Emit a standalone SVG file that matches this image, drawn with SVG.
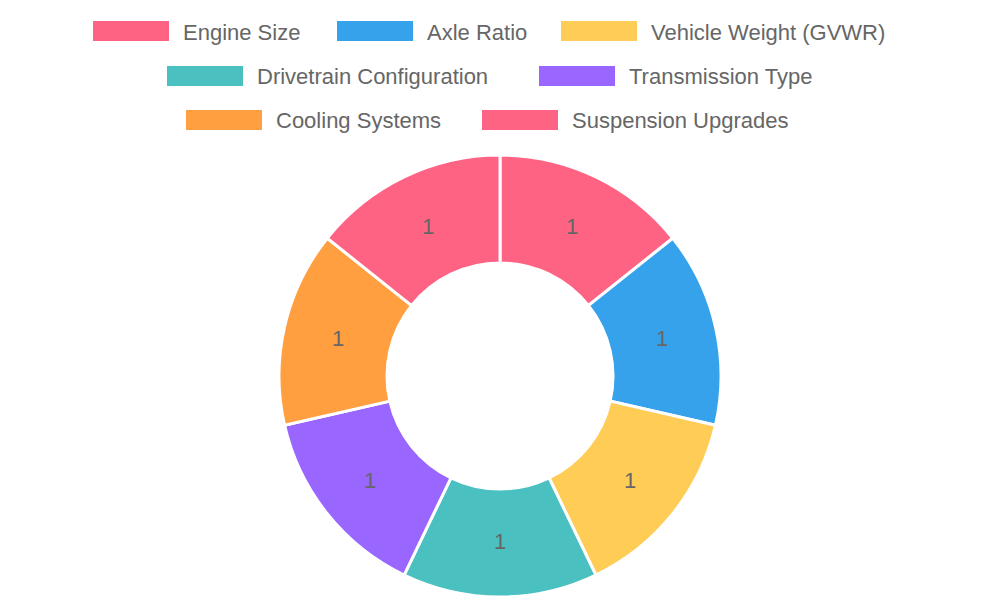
<svg xmlns="http://www.w3.org/2000/svg" width="1000" height="600" viewBox="0 0 1000 600">
<style>
text{font-family:"Liberation Sans",Arial,sans-serif;font-size:22px;fill:#666}
.lab{text-anchor:middle;dominant-baseline:central}
.leg{dominant-baseline:central}
.s{stroke:#fff;stroke-width:3}
</style>
<rect width="1000" height="600" fill="#fff"/>
<g id="legend">
<rect x="93" y="21" width="76" height="20" fill="#ff6384"/><text class="leg" x="183" y="32">Engine Size</text>
<rect x="337" y="21" width="76" height="20" fill="#36a2eb"/><text class="leg" x="427" y="32">Axle Ratio</text>
<rect x="561" y="21" width="76" height="20" fill="#ffcd56"/><text class="leg" x="651" y="32">Vehicle Weight (GVWR)</text>
<rect x="167" y="66" width="76" height="20" fill="#4bc0c0"/><text class="leg" x="257" y="76">Drivetrain Configuration</text>
<rect x="539" y="66" width="76" height="20" fill="#9966ff"/><text class="leg" x="629" y="76">Transmission Type</text>
<rect x="186" y="110" width="76" height="20" fill="#ff9f40"/><text class="leg" x="276" y="120">Cooling Systems</text>
<rect x="482" y="110" width="76" height="20" fill="#ff6384"/><text class="leg" x="572" y="120">Suspension Upgrades</text>
</g>
<g id="slices">
<g id="engine"><path class="s" fill="#ff6384" d="M500,155 A221,221 0 0 1 672.78,238.21 L588.35,305.55 A113,113 0 0 0 500,263 Z"/><text class="lab" x="572" y="226">1</text></g>
<g id="axle"><path class="s" fill="#36a2eb" d="M672.78,238.21 A221,221 0 0 1 715.46,425.18 L610.17,401.14 A113,113 0 0 0 588.35,305.55 Z"/><text class="lab" x="662" y="338">1</text></g>
<g id="weight"><path class="s" fill="#ffcd56" d="M715.46,425.18 A221,221 0 0 1 595.89,575.11 L549.03,477.81 A113,113 0 0 0 610.17,401.14 Z"/><text class="lab" x="630" y="480">1</text></g>
<g id="drivetrain"><path class="s" fill="#4bc0c0" d="M595.89,575.11 A221,221 0 0 1 404.11,575.11 L450.97,477.81 A113,113 0 0 0 549.03,477.81 Z"/><text class="lab" x="500" y="541">1</text></g>
<g id="transmission"><path class="s" fill="#9966ff" d="M404.11,575.11 A221,221 0 0 1 284.54,425.18 L389.83,401.14 A113,113 0 0 0 450.97,477.81 Z"/><text class="lab" x="370" y="480">1</text></g>
<g id="cooling"><path class="s" fill="#ff9f40" d="M284.54,425.18 A221,221 0 0 1 327.22,238.21 L411.65,305.55 A113,113 0 0 0 389.83,401.14 Z"/><text class="lab" x="338" y="338">1</text></g>
<g id="suspension"><path class="s" fill="#ff6384" d="M327.22,238.21 A221,221 0 0 1 500,155 L500,263 A113,113 0 0 0 411.65,305.55 Z"/><text class="lab" x="428" y="226">1</text></g>
</g>
</svg>
